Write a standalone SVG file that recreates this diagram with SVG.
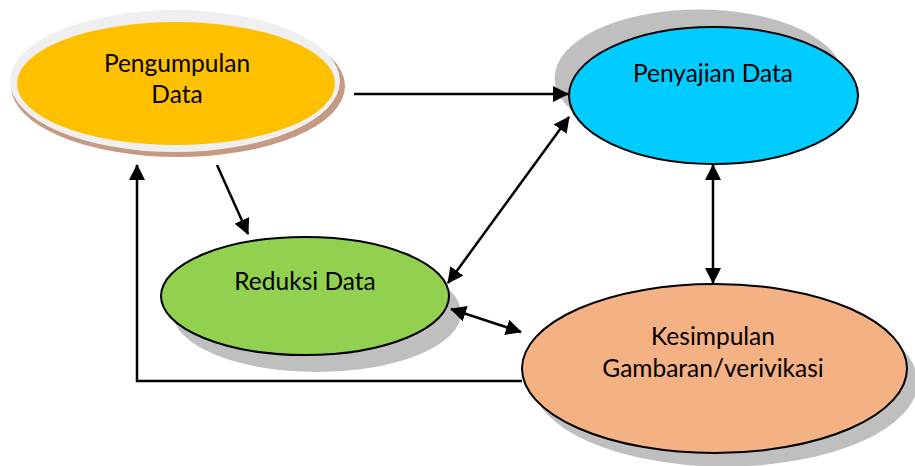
<svg xmlns="http://www.w3.org/2000/svg" width="915" height="466" viewBox="0 0 915 466">
<defs>
<marker id="ah" markerUnits="userSpaceOnUse" markerWidth="16" markerHeight="16" viewBox="0 0 16 16" refX="15" refY="8" orient="auto-start-reverse">
<path d="M0,0 L16,8 L0,16 Z" fill="#000"/>
</marker>
</defs>
<style>
.lbl{font-family:Lato,"Open Sans","Liberation Sans",sans-serif;font-size:24.5px;fill:#000;text-anchor:middle}
.node{stroke:#000;stroke-width:2}
.shadow{fill:#BFBFBF}
.conn{fill:none;stroke:#000;stroke-width:2.5}
</style>
<g id="pengumpulan">
<ellipse cx="178" cy="86" rx="167" ry="71" fill="#C49A82"/>
<ellipse cx="175" cy="81" rx="165" ry="71" fill="#EFEFEF"/>
<ellipse cx="176" cy="83.5" rx="159" ry="61.5" fill="#FFC000"/>
<text class="lbl" x="177" y="72">Pengumpulan</text>
<text class="lbl" x="177" y="103">Data</text>
</g>
<g id="penyajian">
<ellipse class="shadow" cx="699" cy="78" rx="144.5" ry="68.5"/>
<ellipse class="node" cx="713.5" cy="95.5" rx="144.5" ry="68.5" fill="#00CCFF"/>
<text class="lbl" x="713" y="82">Penyajian Data</text>
</g>
<g id="reduksi">
<ellipse class="shadow" cx="317" cy="313" rx="144" ry="59"/>
<ellipse class="node" cx="305" cy="296" rx="144" ry="59" fill="#92D050"/>
<text class="lbl" x="305" y="290">Reduksi Data</text>
</g>
<g id="kesimpulan">
<ellipse class="shadow" cx="725" cy="382" rx="192.5" ry="84.5"/>
<ellipse class="node" cx="714.5" cy="368.5" rx="192.5" ry="84.5" fill="#F4B183"/>
<text class="lbl" x="713" y="345">Kesimpulan</text>
<text class="lbl" x="713" y="377">Gambaran/verivikasi</text>
</g>
<g id="connectors">
<line class="conn" x1="354" y1="94" x2="568" y2="94" marker-end="url(#ah)"/>
<line class="conn" x1="217" y1="165" x2="248" y2="234" marker-end="url(#ah)"/>
<line class="conn" x1="569" y1="117" x2="448" y2="283" marker-start="url(#ah)" marker-end="url(#ah)"/>
<line class="conn" x1="713" y1="165" x2="713" y2="283" marker-start="url(#ah)" marker-end="url(#ah)"/>
<line class="conn" x1="451" y1="309" x2="521" y2="332" marker-start="url(#ah)" marker-end="url(#ah)"/>
<polyline class="conn" points="522,381 137,381 137,165" marker-end="url(#ah)"/>
</g>
</svg>
